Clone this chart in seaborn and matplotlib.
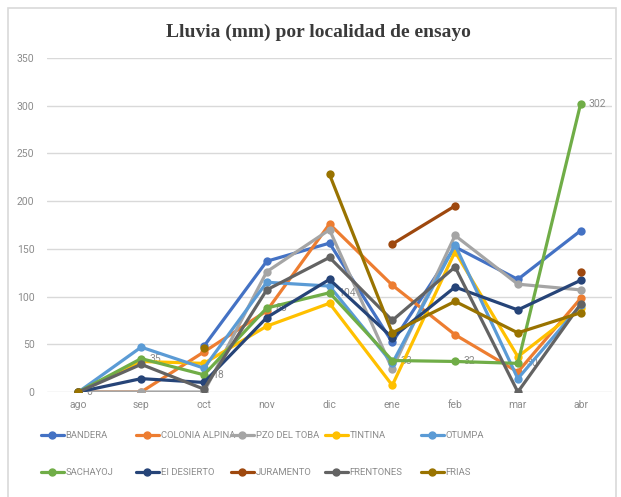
import numpy as np
import pandas as pd
import seaborn as sns
import matplotlib.pyplot as plt
from matplotlib.lines import Line2D
from matplotlib.patches import Rectangle

# Monthly rainfall (mm); NaN = no data
months = ["ago", "sep", "oct", "nov", "dic", "ene", "feb", "mar", "abr"]
nan = np.nan
bandera = [nan, nan, 48, 137, 156, 52, 152, 118, 169]
colonia_alpina = [0, 0, 42, 85, 176, 112, 60, 21, 98]
pzo_del_toba = [0, 0, 0, 126, 170, 24, 164, 113, 107]
tintina = [0, 32, 30, 69, 93, 7, 147, 37, 88]
otumpa = [0, 47, 25, 115, 111, 30, 154, 14, 91]
sachayoj = [0, 35, 18, 88, 104, 33, 32, 30, 302]
el_desierto = [0, 14, 10, 78, 118, 57, 110, 86, 117]
juramento = [nan, nan, nan, nan, nan, 155, 195, nan, 126]
frentones = [0, 29, 3, 107, 141, 75, 131, 0, 92]
frias = [0, nan, 46, nan, 228, 62, 95, 62, 83]

names = ["BANDERA", "COLONIA ALPINA", "PZO DEL TOBA", "TINTINA", "OTUMPA",
         "SACHAYOJ", "EI DESIERTO", "JURAMENTO", "FRENTONES", "FRIAS"]
series = [bandera, colonia_alpina, pzo_del_toba, tintina, otumpa,
          sachayoj, el_desierto, juramento, frentones, frias]
colors = ["#4472C4", "#ED7D31", "#A5A5A5", "#FFC000", "#5B9BD5",
          "#70AD47", "#264478", "#9E480E", "#636363", "#997300"]
sachayoj_labels = ["0", "35", "18", "88", "104", "33", "32", "30", "302"]


def to_long(names, series):
    # one row per point, with a segment id so gaps (NaN) break the line
    rows = []
    for name, vals in zip(names, series):
        seg = 0
        for i, v in enumerate(vals):
            if pd.isna(v):
                seg += 1
                continue
            rows.append({"loc": name, "pos": i, "val": v, "seg": f"{name}-{seg}"})
    return pd.DataFrame(rows)


df = to_long(names, series)

sns.set_style("white")
plt.rcParams["font.family"] = ["Roboto", "DejaVu Sans"]

fig = plt.figure(figsize=(6.21, 4.97), dpi=100)
ax = fig.add_axes([47 / 621, 1 - 392 / 497, 565 / 621, 334 / 497])

# chart area border
fig.patches.append(Rectangle((8 / 621, -0.01), 608 / 621, 1 - 8 / 497 + 0.01,
                             transform=fig.transFigure, fill=False,
                             edgecolor="#D9D9D9", linewidth=1.2, zorder=0))

sns.lineplot(data=df, x="pos", y="val", hue="loc", units="seg", estimator=None,
             palette=dict(zip(names, colors)), hue_order=names, marker="o",
             markersize=6, markeredgewidth=0, linewidth=2.3, legend=False,
             sort=True, ax=ax, zorder=3)

# data labels for SACHAYOJ
for i, (v, lab) in enumerate(zip(sachayoj, sachayoj_labels)):
    ax.annotate(lab, (i, v), xytext=(6, 0), textcoords="offset points",
                va="center", ha="left", fontsize=7.5, color="#8C8C8C", zorder=2)

ax.set_xlim(-0.5, len(months) - 0.5)
ax.set_ylim(0, 350)
ax.set_yticks(range(0, 351, 50))
ax.set_xticks(range(len(months)))
ax.set_xticklabels(months)
ax.set_xlabel("")
ax.set_ylabel("")
ax.grid(axis="y", color="#D9D9D9", linewidth=1)
ax.set_axisbelow(True)
for s in ax.spines.values():
    s.set_visible(False)
ax.tick_params(axis="both", length=0, labelsize=7.5, labelcolor="#8C8C8C")
ax.tick_params(axis="y", pad=9)
ax.tick_params(axis="x", pad=6)

fig.text(318 / 621, 1 - 32 / 497, "Lluvia (mm) por localidad de ensayo",
         ha="center", va="center", fontsize=14, fontweight="bold",
         family=["Liberation Serif", "DejaVu Serif"], color="#3A3A3A")

# legend: 5 columns x 2 rows, evenly spaced
col_x = [41, 136, 231, 325, 421]
for c in range(5):
    handles = []
    for r in range(2):
        k = r * 5 + c
        handles.append(Line2D([0], [0], color=colors[k], linewidth=2.3,
                              marker="o", markersize=5, label=names[k]))
    fig.legend(handles=handles, loc="center left",
               bbox_to_anchor=(col_x[c] / 621, 1 - 454 / 497),
               frameon=False, fontsize=6.8, labelcolor="#8C8C8C",
               handlelength=2.4, handletextpad=0.2, labelspacing=3.0,
               borderpad=0, borderaxespad=0)

fig.savefig("out.png", dpi=100, facecolor="white")
